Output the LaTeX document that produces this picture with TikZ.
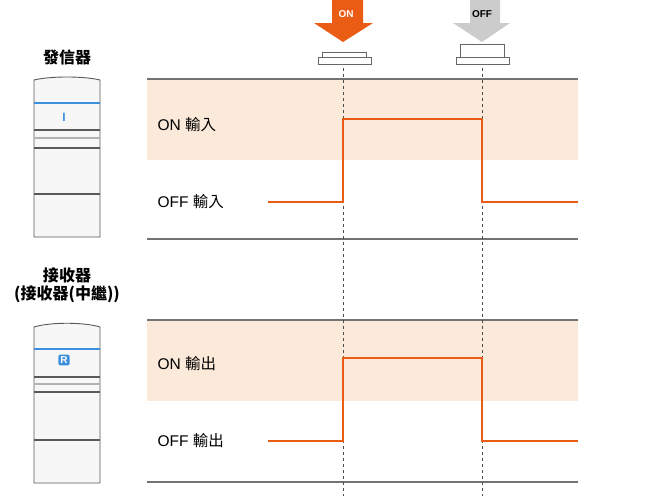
\documentclass[tikz,border=0pt]{standalone}
\usepackage{fontspec}
\setmainfont{Liberation Sans}
\newfontfamily\cjk{Noto Sans CJK TC}
\definecolor{sigc}{HTML}{EA5B14}
\definecolor{bandc}{HTML}{FBE9DA}
\definecolor{bluec}{HTML}{3C8FDC}
\begin{document}
\begin{tikzpicture}[x=1pt,y=-1pt,
  band/.style={fill=bandc, draw=none},
  rule/.style={draw=black!55, line width=1.2pt},
  sig/.style={draw=sigc, line width=1.8pt},
  vguide/.style={draw=black!70, dashed, line width=0.7pt},
  lab/.style={anchor=west, font=\fontsize{15.5}{17}\selectfont},
  dev/.style={draw=black!65, line width=0.9pt, fill=black!3},
  devl/.style={draw=black!65, line width=1.1pt},
  blueline/.style={draw=bluec, line width=2pt}]
\useasboundingbox (0,0) rectangle (668,496);
% panels
\fill[band] (147,80) rectangle (578,160);
\fill[band] (147,321) rectangle (578,401);
\draw[rule] (147,79) -- (578,79);
\draw[rule] (147,239) -- (578,239);
\draw[rule] (147,320) -- (578,320);
\draw[rule] (147,482) -- (578,482);
% dashed
\draw[vguide] (343,68) -- (343,496);
\draw[vguide] (482,68) -- (482,496);
% signals
\draw[sig] (268,202) -- (343,202) -- (343,119) -- (482,119) -- (482,202) -- (578,202);
\draw[sig] (268,441) -- (343,441) -- (343,358) -- (482,358) -- (482,441) -- (578,441);
% labels
\node[lab] (l1) at (154,125) {ON {\cjk 輸入}};
\node[lab] (l2) at (154,202) {OFF {\cjk 輸入}};
\node[lab] (l3) at (154,364) {ON {\cjk 輸出}};
\node[lab] (l4) at (154,441) {OFF {\cjk 輸出}};
% arrows
\fill[sigc] (332,0) -- (363,0) -- (363,23) -- (373,23) -- (343,42) -- (314,23) -- (332,23) -- cycle;
\node[white, font=\bfseries\fontsize{10}{10}\selectfont] (aon) at (346,14) {ON};
\fill[black!20] (470,0) -- (500,0) -- (500,23) -- (510,23) -- (482,42) -- (453,23) -- (470,23) -- cycle;
\node[black, font=\bfseries\fontsize{10}{10}\selectfont] (aoff) at (482,14) {OFF};
% buttons
\draw[black!60, fill=white, line width=0.8pt] (322,52) rectangle (366,57);
\draw[black!60, fill=white, line width=0.8pt] (318,57) rectangle (371,64);
\draw[black!60, fill=white, line width=0.8pt] (460,44) rectangle (504,57);
\draw[black!60, fill=white, line width=0.8pt] (456,57) rectangle (509,64);
% device 1
\node[font=\cjk\bfseries\fontsize{16}{18}\selectfont] (t1) at (67,57) {發信器};
\draw[dev] (34,237) -- (34,80) .. controls (50,76) and (84,76) .. (100,80) -- (100,237) -- cycle;
\draw[blueline] (34,103) -- (100,103);
\draw[devl] (34,130) -- (100,130);
\draw[devl, draw=black!30] (34,138) -- (100,138);
\draw[devl] (34,148) -- (100,148);
\draw[devl] (34,194) -- (100,194);
\node[text=bluec, font=\bfseries\fontsize{12}{12}\selectfont] (ic1) at (64,117) {I};
% device 2
\node[font=\cjk\bfseries\fontsize{16}{18}\selectfont, align=center] (t2) at (67,285) {接收器\\(接收器(中繼))};
\draw[dev] (34,483) -- (34,327) .. controls (50,322) and (84,322) .. (100,327) -- (100,483) -- cycle;
\draw[blueline] (34,349) -- (100,349);
\draw[devl] (34,377) -- (100,377);
\draw[devl, draw=black!30] (34,384) -- (100,384);
\draw[devl] (34,392) -- (100,392);
\draw[devl] (34,440) -- (100,440);
\node[fill=bluec, text=white, rounded corners=2pt, inner sep=2pt, font=\bfseries\fontsize{10}{10}\selectfont] (ic2) at (64,360) {R};
\end{tikzpicture}
\end{document}
